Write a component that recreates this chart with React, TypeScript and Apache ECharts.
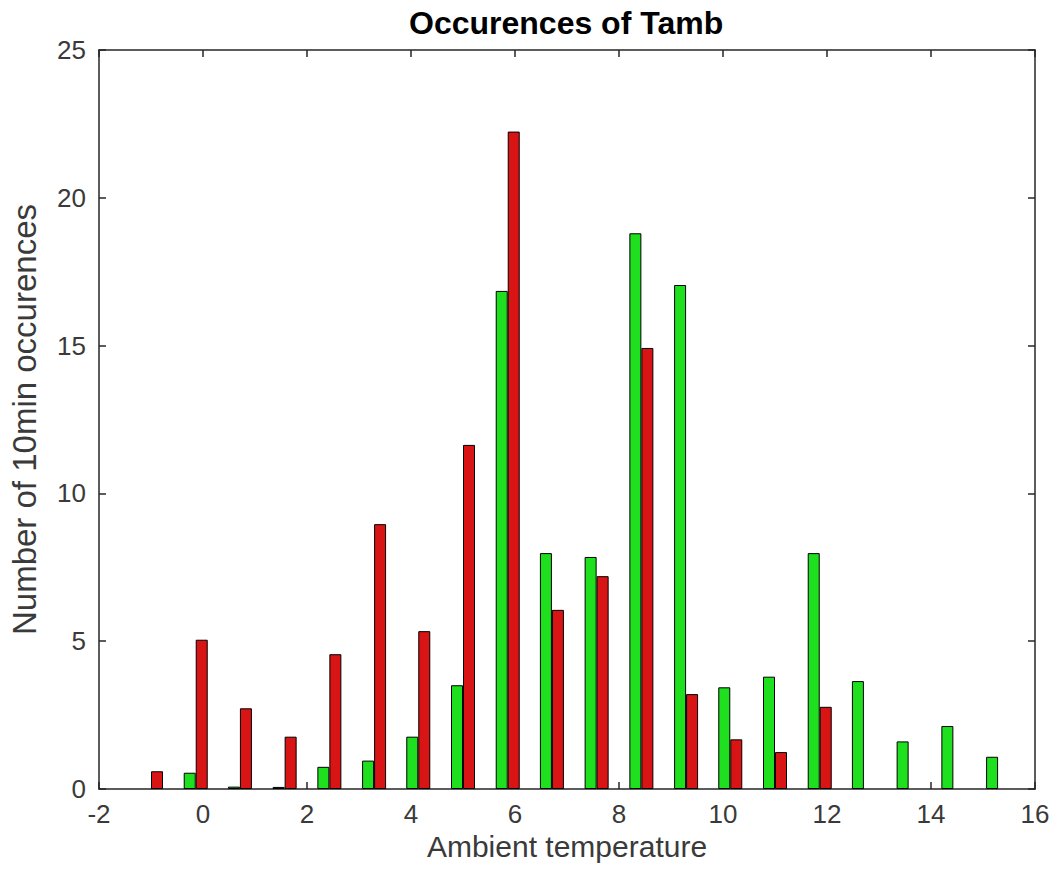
import React, { useEffect, useRef } from "react";
import * as echarts from "echarts";

const binCenters = [-1.0, -0.14, 0.71, 1.57, 2.43, 3.29, 4.14, 5.0, 5.86, 6.71, 7.57, 8.43, 9.29, 10.14, 11.0, 11.86, 12.71, 13.57, 14.43, 15.29];
const greenCounts: (number | null)[] = [null, 0.55, 0.08, 0.07, 0.75, 0.96, 1.77, 3.51, 16.85, 7.98, 7.85, 18.8, 17.05, 3.44, 3.8, 7.98, 3.65, 1.61, 2.13, 1.09];
const redCounts: (number | null)[] = [0.6, 5.05, 2.73, 1.77, 4.56, 8.96, 5.34, 11.64, 22.24, 6.06, 7.2, 14.92, 3.21, 1.68, 1.25, 2.78, null, null, null, null];

const titleText = "Occurences of Tamb";
const xName = "Ambient temperature";
const yName = "Number of 10min occurences";

export default function App() {
  const ref = useRef<HTMLDivElement>(null);
  useEffect(() => {
    document.body.style.margin = "0";
    if (!ref.current) return;
    const chart = echarts.init(ref.current, undefined, { renderer: "svg" });
    const font = "Liberation Sans, Arial, sans-serif";
    const axisColor = "#262626";
    const labelColor = "#3a3a3a";
    const commonAxisLine = { show: true, onZero: false, lineStyle: { color: axisColor, width: 1.5 } };
    const tickIn = { show: true, inside: true, length: 7, lineStyle: { color: axisColor, width: 1.5 } };
    const mk = (vals: (number | null)[]) => binCenters.map((x, i) => [x, vals[i]]);
    chart.setOption({
      animation: false,
      backgroundColor: "#ffffff",
      title: {
        text: titleText,
        left: 409,
        top: 7,
        padding: 0,
        textStyle: { fontFamily: font, fontWeight: "bold", fontSize: 32, color: "#000" },
      },
      grid: { left: 98, right: 21, top: 50, bottom: 94 },
      xAxis: [
        {
          type: "value",
          min: -2,
          max: 16,
          interval: 2,
          position: "bottom",
          name: xName,
          nameLocation: "middle",
          nameGap: 33,
          nameTextStyle: { fontFamily: font, fontSize: 30, color: labelColor },
          axisLine: commonAxisLine,
          axisTick: tickIn,
          axisLabel: { fontFamily: font, fontSize: 26, color: labelColor, margin: 12 },
          splitLine: { show: false },
        },
        {
          type: "value",
          min: -2,
          max: 16,
          interval: 2,
          position: "top",
          axisLine: commonAxisLine,
          axisTick: tickIn,
          axisLabel: { show: false },
          splitLine: { show: false },
        },
      ],
      yAxis: [
        {
          type: "value",
          min: 0,
          max: 25,
          interval: 5,
          position: "left",
          name: yName,
          nameLocation: "middle",
          nameGap: 58,
          nameTextStyle: { fontFamily: font, fontSize: 33, color: labelColor },
          axisLine: commonAxisLine,
          axisTick: tickIn,
          axisLabel: { fontFamily: font, fontSize: 26, color: labelColor, margin: 13 },
          splitLine: { show: false },
        },
        {
          type: "value",
          min: 0,
          max: 25,
          interval: 5,
          position: "right",
          axisLine: commonAxisLine,
          axisTick: tickIn,
          axisLabel: { show: false },
          splitLine: { show: false },
        },
      ],
      series: [
        {
          type: "bar",
          name: "green",
          xAxisIndex: 0,
          yAxisIndex: 0,
          data: mk(greenCounts),
          barWidth: 12,
          barGap: "0%",
          itemStyle: { color: "#1fe01f", borderColor: "#000", borderWidth: 1 },
        },
        {
          type: "bar",
          name: "red",
          xAxisIndex: 0,
          yAxisIndex: 0,
          data: mk(redCounts),
          barWidth: 12,
          barGap: "0%",
          itemStyle: { color: "#d81414", borderColor: "#000", borderWidth: 1 },
        },
      ],
    });
    return () => chart.dispose();
  }, []);
  return <div ref={ref} style={{ width: 1056, height: 883 }} />;
}
